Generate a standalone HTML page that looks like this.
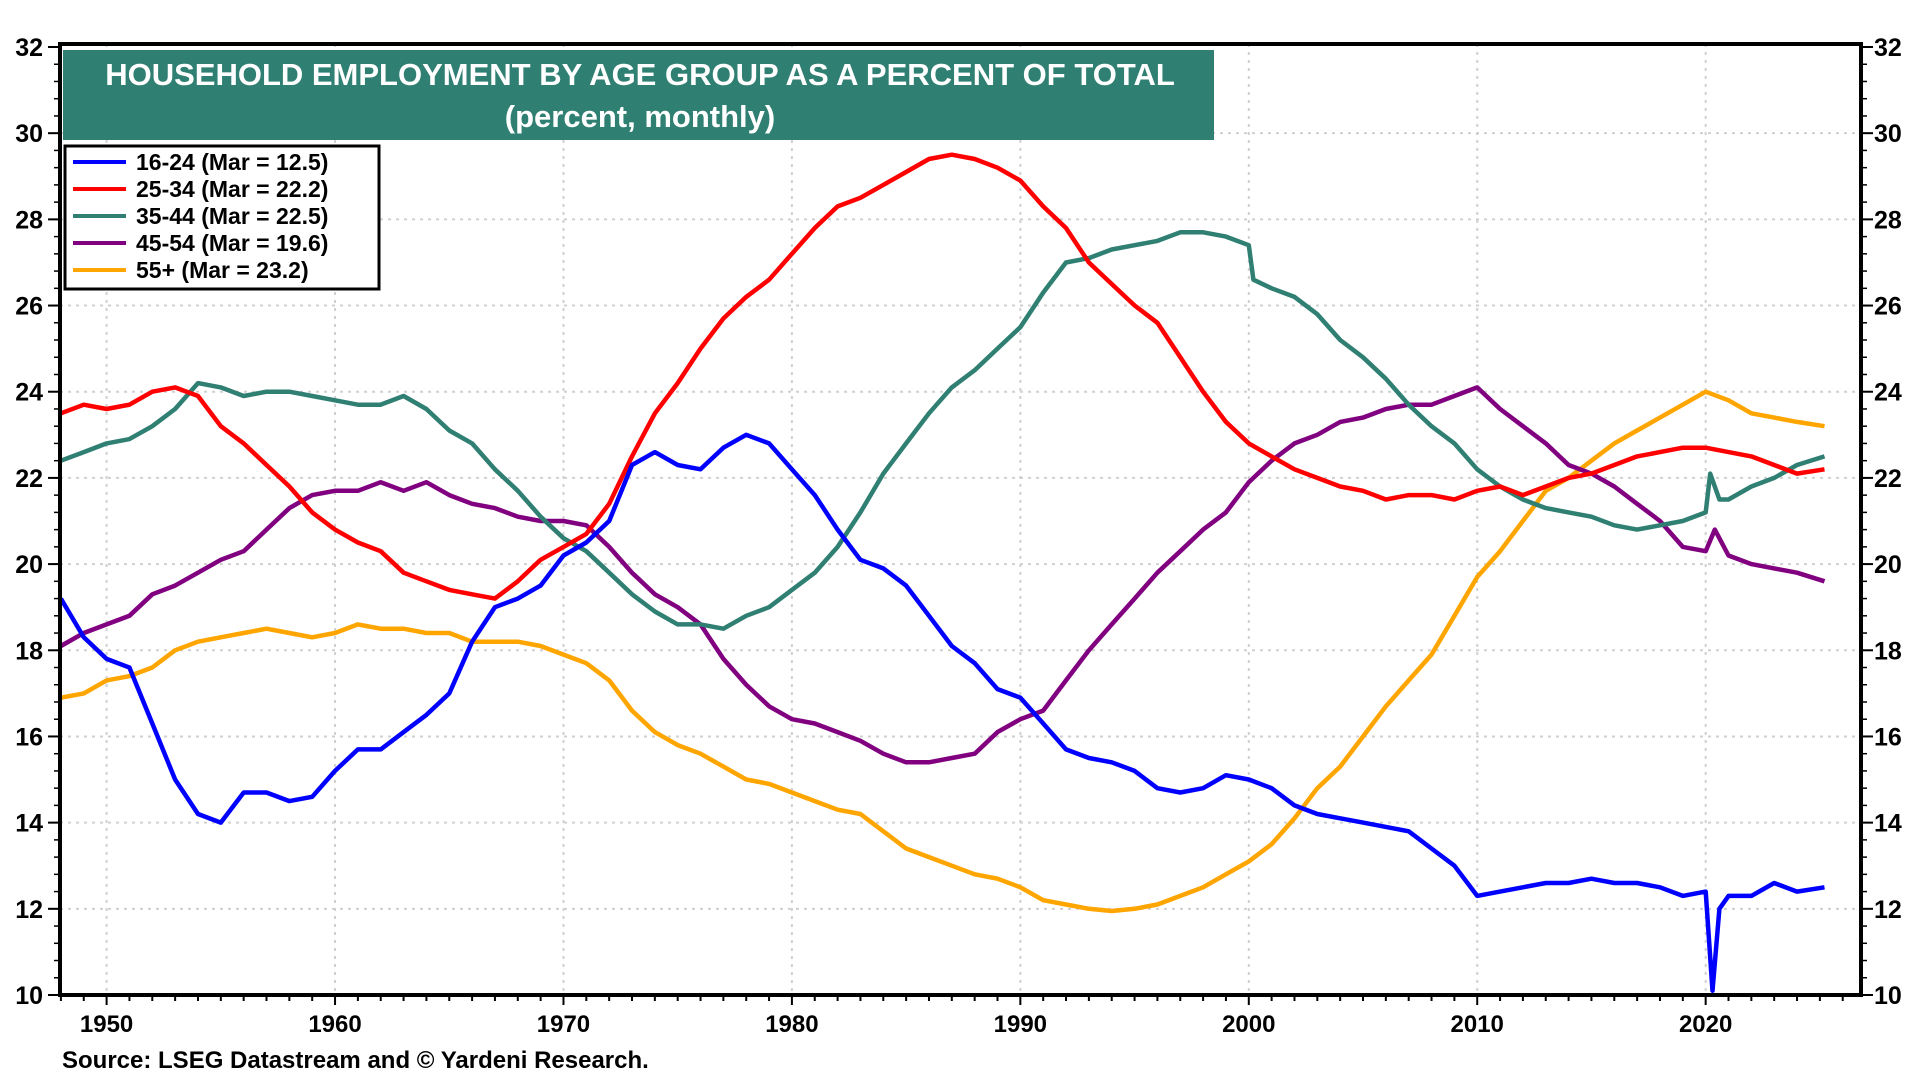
<!DOCTYPE html>
<html><head><meta charset="utf-8"><style>
body{margin:0;background:#fff;}
svg{display:block;font-family:"Liberation Sans",Arial,sans-serif;font-weight:bold;}
</style></head><body>
<svg id="chart" width="1920" height="1080" viewBox="0 0 1920 1080">
<g id="grid"></g>
<g id="axes"></g>
<g id="series"></g>
<rect x="60" y="44" width="1801" height="951" fill="none" stroke="#000" stroke-width="4"/>
<g>
<rect x="63" y="50" width="1151" height="90" fill="#2f7f72"/>
<text x="640" y="85" fill="#fff" font-size="31" text-anchor="middle">HOUSEHOLD EMPLOYMENT BY AGE GROUP AS A PERCENT OF TOTAL</text>
<text x="640" y="127" fill="#fff" font-size="31" text-anchor="middle">(percent, monthly)</text>
</g>
<g id="legend">
<rect x="65" y="146" width="314" height="143" fill="#fff" stroke="#000" stroke-width="3"/>
</g>
<text x="62" y="1068" font-size="24">Source: LSEG Datastream and © Yardeni Research.</text>
</svg>
<script>
const labels=["16-24 (Mar = 12.5)","25-34 (Mar = 22.2)","35-44 (Mar = 22.5)","45-54 (Mar = 19.6)","55+ (Mar = 23.2)"];
const colors=["#0000ff","#ff0000","#2f7f72","#800080","#ffa500"];
const yTicks=[10,12,14,16,18,20,22,24,26,28,30,32];
const xTicks=[1950,1960,1970,1980,1990,2000,2010,2020];
const yrsA=[];for(let y=1948;y<=2024;y++)yrsA.push(y);
const x1624=yrsA.filter(y=>y<=2020).concat([2020.3,2020.6,2021,2022,2023,2024,2025.2]);
const v1624=[19.2,18.3,17.8,17.6,16.3,15.0,14.2,14.0,14.7,14.7,14.5,14.6,15.2,15.7,15.7,16.1,16.5,17.0,18.2,19.0,19.2,19.5,20.2,20.5,21.0,22.3,22.6,22.3,22.2,22.7,23.0,22.8,22.2,21.6,20.8,20.1,19.9,19.5,18.8,18.1,17.7,17.1,16.9,16.3,15.7,15.5,15.4,15.2,14.8,14.7,14.8,15.1,15.0,14.8,14.4,14.2,14.1,14.0,13.9,13.8,13.4,13.0,12.3,12.4,12.5,12.6,12.6,12.7,12.6,12.6,12.5,12.3,12.4,10.1,12.0,12.3,12.3,12.6,12.4,12.5];
const x2534=yrsA.concat([2025.2]);
const v2534=[23.5,23.7,23.6,23.7,24.0,24.1,23.9,23.2,22.8,22.3,21.8,21.2,20.8,20.5,20.3,19.8,19.6,19.4,19.3,19.2,19.6,20.1,20.4,20.7,21.4,22.5,23.5,24.2,25.0,25.7,26.2,26.6,27.2,27.8,28.3,28.5,28.8,29.1,29.4,29.5,29.4,29.2,28.9,28.3,27.8,27.0,26.5,26.0,25.6,24.8,24.0,23.3,22.8,22.5,22.2,22.0,21.8,21.7,21.5,21.6,21.6,21.5,21.7,21.8,21.6,21.8,22.0,22.1,22.3,22.5,22.6,22.7,22.7,22.6,22.5,22.3,22.1,22.2];
const x3544=yrsA.filter(y=>y<=2000).concat([2000.2]).concat(yrsA.filter(y=>y>2000&&y<=2020)).concat([2020.2,2020.6,2021,2022,2023,2024,2025.2]);
const v3544=[22.4,22.6,22.8,22.9,23.2,23.6,24.2,24.1,23.9,24.0,24.0,23.9,23.8,23.7,23.7,23.9,23.6,23.1,22.8,22.2,21.7,21.1,20.6,20.3,19.8,19.3,18.9,18.6,18.6,18.5,18.8,19.0,19.4,19.8,20.4,21.2,22.1,22.8,23.5,24.1,24.5,25.0,25.5,26.3,27.0,27.1,27.3,27.4,27.5,27.7,27.7,27.6,27.4,26.6,26.4,26.2,25.8,25.2,24.8,24.3,23.7,23.2,22.8,22.2,21.8,21.5,21.3,21.2,21.1,20.9,20.8,20.9,21.0,21.2,22.1,21.5,21.5,21.8,22.0,22.3,22.5];
const x4554=yrsA.filter(y=>y<=2020).concat([2020.4,2021,2022,2023,2024,2025.2]);
const v4554=[18.1,18.4,18.6,18.8,19.3,19.5,19.8,20.1,20.3,20.8,21.3,21.6,21.7,21.7,21.9,21.7,21.9,21.6,21.4,21.3,21.1,21.0,21.0,20.9,20.4,19.8,19.3,19.0,18.6,17.8,17.2,16.7,16.4,16.3,16.1,15.9,15.6,15.4,15.4,15.5,15.6,16.1,16.4,16.6,17.3,18.0,18.6,19.2,19.8,20.3,20.8,21.2,21.9,22.4,22.8,23.0,23.3,23.4,23.6,23.7,23.7,23.9,24.1,23.6,23.2,22.8,22.3,22.1,21.8,21.4,21.0,20.4,20.3,20.8,20.2,20.0,19.9,19.8,19.6];
const x55=yrsA.concat([2025.2]);
const v55=[16.9,17.0,17.3,17.4,17.6,18.0,18.2,18.3,18.4,18.5,18.4,18.3,18.4,18.6,18.5,18.5,18.4,18.4,18.2,18.2,18.2,18.1,17.9,17.7,17.3,16.6,16.1,15.8,15.6,15.3,15.0,14.9,14.7,14.5,14.3,14.2,13.8,13.4,13.2,13.0,12.8,12.7,12.5,12.2,12.1,12.0,11.95,12.0,12.1,12.3,12.5,12.8,13.1,13.5,14.1,14.8,15.3,16.0,16.7,17.3,17.9,18.8,19.7,20.3,21.0,21.7,22.0,22.4,22.8,23.1,23.4,23.7,24.0,23.8,23.5,23.4,23.3,23.2];
const seriesX=[x1624,x2534,x3544,x4554,x55];
const seriesV=[v1624,v2534,v3544,v4554,v55];
const names=["series-16-24","series-25-34","series-35-44","series-45-54","series-55-plus"];

const X0=60,X1=1861,Y0=995,Y1=44,YR0=1947.96,YR1=2026.8;
const xs=y=>X0+(y-YR0)*(X1-X0)/(YR1-YR0);
const ys=v=>Y0-(v-10)*(Y0-47)/22;
const NS="http://www.w3.org/2000/svg";
function mk(t,a,p){const e=document.createElementNS(NS,t);for(const k in a)e.setAttribute(k,a[k]);p.appendChild(e);return e;}
const grid=document.getElementById('grid'),axes=document.getElementById('axes');
yTicks.forEach(v=>{
 if(v>10&&v<32){const g=mk('line',{x1:X0,x2:X1,y1:ys(v),y2:ys(v),stroke:'#d0d0d0','stroke-width':2,'stroke-dasharray':'3,5'},grid);
 
 }
 const l=mk('text',{x:43,y:ys(v)+9,'font-size':25,'text-anchor':'end'},axes);l.textContent=v;
 
 
 const r=mk('text',{x:1874,y:ys(v)+9,'font-size':25},axes);r.textContent=v;
 
 
 mk('line',{x1:X0-12,x2:X0,y1:ys(v),y2:ys(v),stroke:'#000','stroke-width':2},axes);
 mk('line',{x1:X1,x2:X1+12,y1:ys(v),y2:ys(v),stroke:'#000','stroke-width':2},axes);
});
for(let v=10;v<=32;v+=0.4){mk('line',{x1:X0-6,x2:X0,y1:ys(v),y2:ys(v),stroke:'#000','stroke-width':1.5},axes);mk('line',{x1:X1,x2:X1+6,y1:ys(v),y2:ys(v),stroke:'#000','stroke-width':1.5},axes);}
xTicks.forEach(y=>{
 const g=mk('line',{x1:xs(y),x2:xs(y),y1:Y1,y2:Y0,stroke:'#d0d0d0','stroke-width':2,'stroke-dasharray':'3,5'},grid);
 
 
 const t=mk('text',{x:xs(y),y:1032,'font-size':24,'text-anchor':'middle'},axes);t.textContent=y;
 
 
});
for(let y=1948;y<=2026;y++)mk('line',{x1:xs(y),x2:xs(y),y1:Y0,y2:Y0+(y%10===0?10:6),stroke:'#000','stroke-width':2},axes);
const sg=document.getElementById('series');
[4,3,2,1,0].forEach(i=>{
 const d=seriesX[i].map((y,j)=>(j?'L':'M')+xs(y).toFixed(1)+','+ys(seriesV[i][j]).toFixed(1)).join('');
 const p=mk('path',{d:d,fill:'none',stroke:colors[i],'stroke-width':4.5,'stroke-linejoin':'round'},sg);
 
 
});
const lg=document.getElementById('legend');
labels.forEach((s,i)=>{
 const y=162+i*27;
 const ln=mk('line',{x1:73,x2:126,y1:y,y2:y,stroke:colors[i],'stroke-width':4},lg);
 
 
 const t=mk('text',{x:136,y:y+8,'font-size':23},lg);t.textContent=s;
 
 
});
</script>
</body></html>
